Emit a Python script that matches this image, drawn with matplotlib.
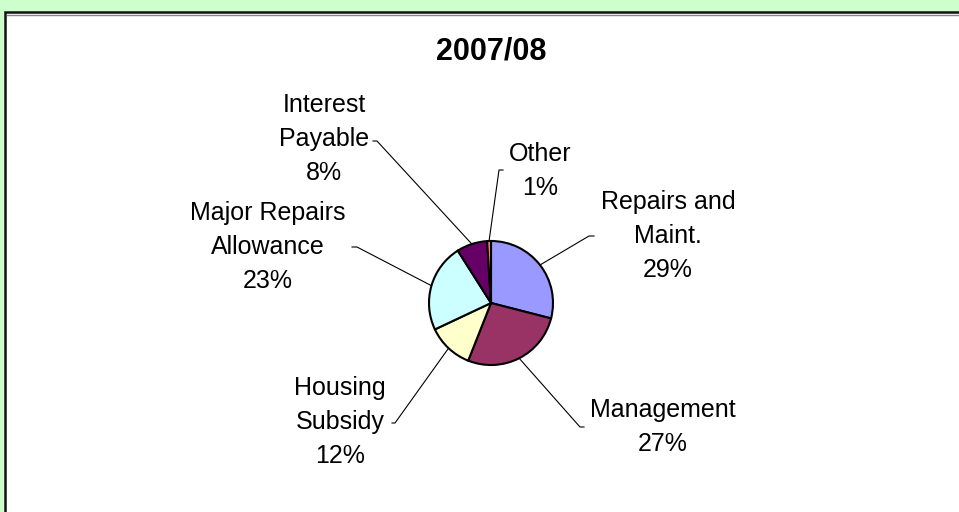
import matplotlib.pyplot as plt
from matplotlib.patches import Rectangle
import numpy as np

plt.rcParams['font.family'] = ['Liberation Sans', 'DejaVu Sans']

title = "2007/08"
categories = ["Repairs and\nMaint.", "Management", "Housing\nSubsidy",
              "Major Repairs\nAllowance", "Interest\nPayable", "Other"]
shares = [29, 27, 12, 23, 8, 1]
colors = ["#9999FF", "#993366", "#FFFFCC", "#CCFFFF", "#660066", "#FF8080"]

# layout in pixels, measured from the top-left corner of the picture
W, H = 959, 512
pie_c = (491, 303)
pie_r = 62
label_xy = [(668, 236), (663, 427), (340, 422), (268, 247), (324, 139), (540, 171)]
leader_end = [(589, 236), (580, 427), (395, 423), (357, 247), (377, 141), (499, 170)]
tick_dx = [5, 4, -3, -5, -4, 4]


def up(y):
    return H - y


fig = plt.figure(figsize=(W / 100, H / 100), dpi=100, facecolor="#CCFFCC")
ax = fig.add_axes([0, 0, 1, 1])

# white chart area with dark border
ax.add_patch(Rectangle((5, -20), 1000, up(12) + 20, facecolor="white",
                       edgecolor="#111111", lw=1.8, zorder=0))
ax.plot([6.5, W], [up(14.5), up(14.5)], color="#888888", lw=1, zorder=0.5)

cx, cy = pie_c[0], up(pie_c[1])
wedges, _ = ax.pie(shares, colors=colors, startangle=90, counterclock=False,
                   center=(cx, cy), radius=pie_r, frame=True,
                   wedgeprops=dict(edgecolor="black", linewidth=1.5))
ax.set_xlim(0, W)
ax.set_ylim(0, H)
ax.axis("off")

for w, lab, pct, (tx, ty), (ex, ey), dx in zip(wedges, categories, shares,
                                               label_xy, leader_end, tick_dx):
    mid = np.deg2rad((w.theta1 + w.theta2) / 2)
    px = cx + pie_r * np.cos(mid)
    py = cy + pie_r * np.sin(mid)
    ax.plot([px, ex, ex + dx], [py, up(ey), up(ey)], color="black", lw=0.8, zorder=1)
    ax.text(tx, up(ty), f"{lab}\n{pct}%", ha="center", va="center",
            fontsize=18, linespacing=1.52)

ax.text(491, up(52), title, ha="center", va="center", fontsize=22, weight="bold")

fig.savefig("out.png", dpi=100, facecolor=fig.get_facecolor())
